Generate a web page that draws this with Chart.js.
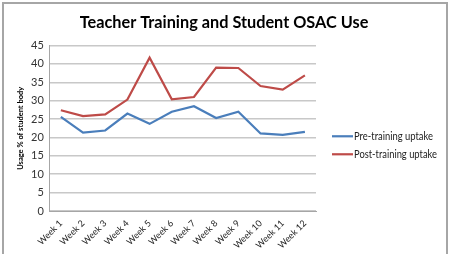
<!DOCTYPE html>
<html><head><meta charset="utf-8">
<script src="https://cdn.jsdelivr.net/npm/chart.js@4"></script>
<style>
html,body{margin:0;padding:0;background:#fff;overflow:hidden;}
#wrap{position:absolute;left:0;top:0;width:450px;height:254px;}
#frame{position:absolute;left:2px;top:2px;width:446px;height:270px;border:2px solid #a6a6a6;box-sizing:border-box;pointer-events:none;}
</style></head>
<body>
<div id="wrap"><canvas id="c" width="450" height="254"></canvas></div>
<div id="frame"></div>
<script>
const categories = ["Week 1","Week 2","Week 3","Week 4","Week 5","Week 6","Week 7","Week 8","Week 9","Week 10","Week 11","Week 12"];
const preTraining = [25.6,21.3,21.9,26.5,23.7,27.0,28.5,25.3,27.0,21.1,20.7,21.5];
const postTraining = [27.4,25.8,26.3,30.3,41.7,30.4,31.0,39.0,38.9,34.0,33.0,36.9];
const seriesNames = ["Pre-training uptake","Post-training uptake"];
const yTicks = [0,5,10,15,20,25,30,35,40,45];

const FONT = "Lato, 'Open Sans', sans-serif";

const sideLegend = {
  id:'sideLegend',
  afterDraw(chart){
    const ctx = chart.ctx;
    const x0 = chart.chartArea.right + 16;
    const yMid = (chart.chartArea.top + chart.chartArea.bottom)/2 + 17;
    const gap = 18;
    const widths = [79, 83];
    const ds = chart.data.datasets;
    ctx.save();
    ctx.font = "10.5px " + FONT;
    ctx.textBaseline = 'middle';
    ctx.textAlign = 'left';
    ds.forEach((d,i)=>{
      const y = yMid - gap*(ds.length-1)/2 + gap*i;
      ctx.strokeStyle = d.borderColor;
      ctx.lineWidth = 2.2;
      ctx.beginPath(); ctx.moveTo(x0, y); ctx.lineTo(x0+21, y); ctx.stroke();
      ctx.fillStyle = '#222';
      ctx.fillText(d.label, x0+22, y, widths[i]);
    });
    ctx.restore();
  }
};

function build(){
new Chart(document.getElementById('c'), {
  type: 'line',
  data: {
    labels: categories,
    datasets: [
      {label: seriesNames[0], data: preTraining, borderColor:'#4a7ebb', backgroundColor:'#4a7ebb', borderWidth:2.2, pointRadius:0, tension:0},
      {label: seriesNames[1], data: postTraining, borderColor:'#be4b48', backgroundColor:'#be4b48', borderWidth:2.2, pointRadius:0, tension:0}
    ]
  },
  options: {
    responsive:false, animation:false, devicePixelRatio:1,
    layout:{padding:{left:8,right:10,top:8,bottom:0}},
    plugins:{
      title:{display:true,text:'Teacher Training and Student OSAC Use',color:'#000',font:{family:FONT,size:16.3,weight:'bold'},padding:{top:5,bottom:13}},
      legend:{display:false},
      tooltip:{enabled:false}
    },
    scales:{
      x:{offset:true,grid:{display:false,drawTicks:false},border:{color:'#a6a6a6',width:1},
         ticks:{color:'#222',font:{family:FONT,size:9},maxRotation:45,minRotation:45,padding:7},
         afterFit:(s)=>{s.height=43;}},
      y:{min:0,max:45,afterBuildTicks:(s)=>{s.ticks=yTicks.map(v=>({value:v}));},
         grid:{color:'#c8c8c8',lineWidth:1.5,drawTicks:false},border:{color:'#a6a6a6',width:1},
         ticks:{color:'#333',font:{family:FONT,size:11},padding:6},
         title:{display:true,text:'Usage % of student body',color:'#000',font:{family:FONT,size:7.5,weight:'bold'},padding:{top:8,bottom:0}}},
      legendSpace:{type:'linear',position:'right',display:true,grid:{display:false},ticks:{display:false},border:{display:false},
         afterFit:(s)=>{s.width=124;}}
    }
  },
  plugins:[sideLegend]
});
}
Promise.all([document.fonts.load("11px Lato"),document.fonts.load("bold 16px Lato"),document.fonts.load("10px Lato")]).then(build,build);
</script>
</body></html>
